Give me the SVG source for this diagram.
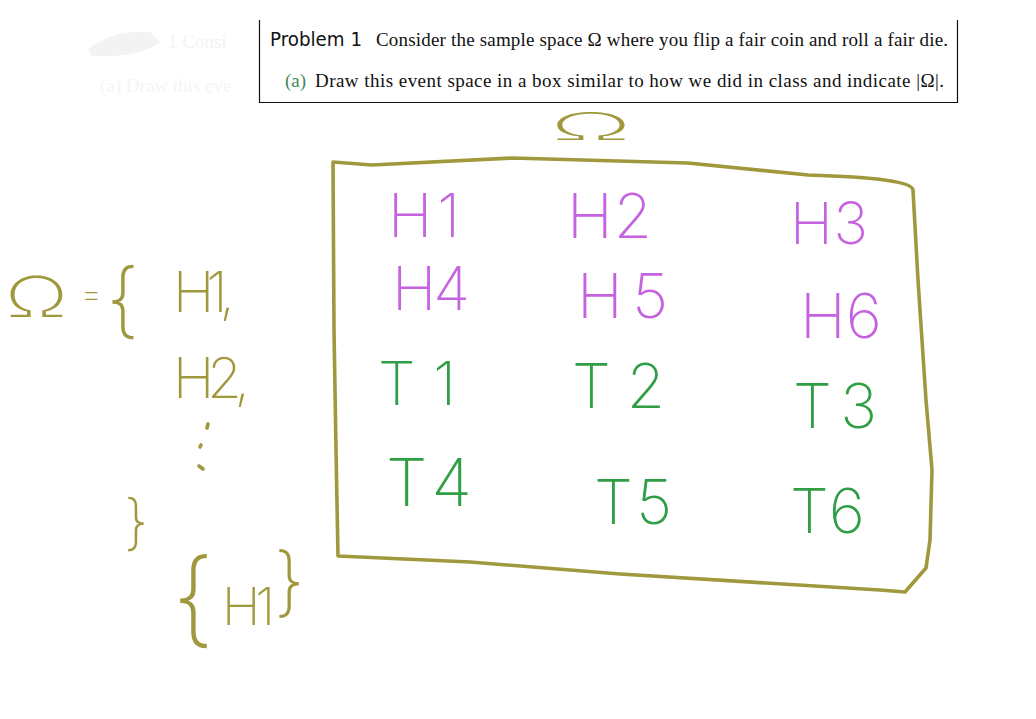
<svg xmlns="http://www.w3.org/2000/svg" width="1036" height="719" viewBox="0 0 1036 719">
<style>
.hw{font-family:Inter,"Noto Sans","DejaVu Sans",sans-serif;font-weight:200}
.p{fill:#c462e0}
.g{fill:#2f9e44}
.o{fill:#a0983c}
.ol{fill:none;stroke:#a0983c;stroke-width:3.6;stroke-linecap:round;stroke-linejoin:round}
.serif{font-family:"Liberation Serif",serif;font-size:19px;fill:#111}
.sans{font-family:"DejaVu Sans","Liberation Sans",sans-serif;font-size:19px;fill:#111}
.ghost{fill:#f3f3f3}
</style>
<rect width="1036" height="719" fill="#fff"/>
<g id="ghost">
<path d="M88 50 Q110 30 150 32 L160 42 Q140 58 92 56 Z" class="ghost"/>
<text x="168" y="48" class="serif" style="fill:#f3f3f3">1  Consi</text>
<text x="100" y="92" class="serif" style="fill:#f5f5f5">(a)  Draw this eve</text>
</g>
<g id="header">
<path d="M259.5 20 V102.5 H957.5 V20" fill="none" stroke="#111" stroke-width="1.2"/>
<text x="270" y="46" class="sans" textLength="92" lengthAdjust="spacingAndGlyphs">Problem 1</text>
<text x="376" y="46" class="serif" textLength="572">Consider the sample space Ω where you flip a fair coin and roll a fair die.</text>
<text x="285" y="87" class="serif" style="fill:#3d8a55">(a)</text>
<text x="315" y="87" class="serif" textLength="629">Draw this event space in a box similar to how we did in class and indicate |Ω|.</text>
</g>
<g id="omega-label">
<text x="550" y="140" class="hw o" font-size="38" font-weight="100" textLength="82" lengthAdjust="spacingAndGlyphs">Ω</text>
</g>
<g id="box">
<path class="ol" d="M333 162 L372 165 L512 158 L688 163 L808 175 Q912 178 913 190 L918 280 L926 400 L932 470 L930 540 L926 568 L905 592 L880 590 L620 574 L470 562 L338 556 L336 450 L334 330 L333 162 Z"/>
</g>
<g id="outcomes">
<text class="hw p" font-size="60" x="388" y="237" textLength="72">H1</text>
<text class="hw p" font-size="62" x="567" y="238" textLength="85">H2</text>
<text class="hw p" font-size="58" x="790" y="244" textLength="78">H3</text>
<text class="hw p" font-size="60" x="392" y="310" textLength="78">H4</text>
<text class="hw p" font-size="62" x="577" y="318" textLength="91">H5</text>
<text class="hw p" font-size="62" x="800" y="338" textLength="82">H6</text>
<text class="hw g" font-size="60" x="378" y="405" textLength="78">T1</text>
<text class="hw g" font-size="62" x="572" y="408" textLength="93">T2</text>
<text class="hw g" font-size="62" x="793" y="428" textLength="84">T3</text>
<text class="hw g" font-size="66" x="386" y="506" textLength="86">T4</text>
<text class="hw g" font-size="62" x="594" y="524" textLength="78">T5</text>
<text class="hw g" font-size="62" x="790" y="533" textLength="75">T6</text>
</g>
<g id="set-notation">
<text class="hw o" font-size="56" x="5" y="317" textLength="63" lengthAdjust="spacingAndGlyphs">Ω</text>
<text class="hw o" font-size="32" x="81" y="305">=</text>
<text class="hw o" font-size="82" x="106" y="328">{</text>
<text class="hw o" font-size="56" x="173" y="312" textLength="62">H1,</text>
<text class="hw o" font-size="56" x="173" y="398" textLength="77">H2,</text>
<path class="ol" stroke-width="3" d="M208 424 L207 428 M201 445 L200 447 M199 466 L203 469"/>
<text class="hw o" font-size="60" x="124" y="543">}</text>
<text class="hw o" font-size="104" x="172" y="634">{</text>
<text class="hw o" font-size="52" x="222" y="625" textLength="53">H1</text>
<text class="hw o" font-size="76" x="274" y="608">}</text>
</g>
</svg>
